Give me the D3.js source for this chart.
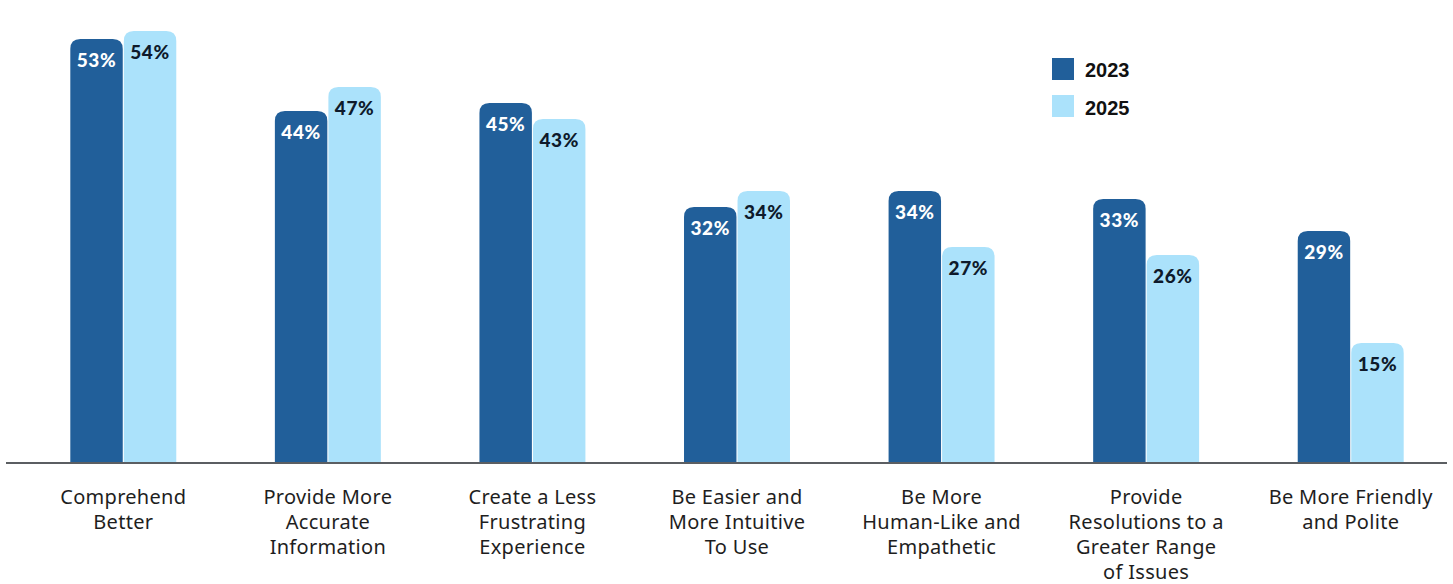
<!DOCTYPE html>
<html>
<head>
<meta charset="utf-8">
<script src="https://cdn.jsdelivr.net/npm/d3@7/dist/d3.min.js"></script>
<style>
  html, body { margin: 0; padding: 0; background: #ffffff; }
  svg { display: block; }
</style>
</head>
<body>
<svg id="chart" width="1453" height="584"></svg>
<script>
// Categories (each label split into its display lines)
const categories = [
  ["Comprehend", "Better"],
  ["Provide More", "Accurate", "Information"],
  ["Create a Less", "Frustrating", "Experience"],
  ["Be Easier and", "More Intuitive", "To Use"],
  ["Be More", "Human-Like and", "Empathetic"],
  ["Provide", "Resolutions to a", "Greater Range", "of Issues"],
  ["Be More Friendly", "and Polite"]
];
const seriesNames = ["2023", "2025"];
const values2023 = [53, 44, 45, 32, 34, 33, 29];
const values2025 = [54, 47, 43, 34, 27, 26, 15];
const seriesValues = [values2023, values2025];
const seriesColors = ["#215f9a", "#abe2fb"];
const labelColors = ["#ffffff", "#0e1a2b"];

const width = 1453, height = 584;
const baseline = 463;

const svg = d3.select("#chart");

const x0 = d3.scaleBand()
  .domain(d3.range(categories.length))
  .range([21, 1453])
  .paddingInner(0.482)
  .paddingOuter(0.241);

const x1 = d3.scaleBand()
  .domain(seriesNames)
  .range([0, x0.bandwidth()])
  .paddingInner(0.02);

const y = d3.scaleLinear()
  .domain([0, 57])
  .range([baseline, 7]);

// Bar with rounded top corners
function topRounded(x, yTop, w, h, r) {
  r = Math.min(r, w / 2, h);
  return `M${x},${yTop + h}` +
    `V${yTop + r}` +
    `Q${x},${yTop} ${x + r},${yTop}` +
    `H${x + w - r}` +
    `Q${x + w},${yTop} ${x + w},${yTop + r}` +
    `V${yTop + h}Z`;
}

const rows = [];
categories.forEach((c, i) => {
  seriesNames.forEach((s, j) => {
    rows.push({ i, j, series: s, value: seriesValues[j][i] });
  });
});

const bars = svg.append("g");
bars.selectAll("path")
  .data(rows)
  .join("path")
  .attr("d", d => {
    const bx = x0(d.i) + x1(d.series);
    const top = y(d.value);
    return topRounded(bx, top, x1.bandwidth(), baseline - top, 10);
  })
  .attr("fill", d => seriesColors[d.j]);

// Value labels inside bars
svg.append("g").selectAll("text")
  .data(rows)
  .join("text")
  .attr("x", d => x0(d.i) + x1(d.series) + x1.bandwidth() / 2)
  .attr("y", d => y(d.value) + 28)
  .attr("text-anchor", "middle")
  .attr("font-family", "Lato, 'Open Sans', sans-serif")
  .attr("font-weight", 900)
  .attr("font-size", 19)
  .attr("letter-spacing", 0.6)
  .attr("fill", d => labelColors[d.j])
  .text(d => d.value + "%");

// Baseline axis
const xAxis = d3.axisBottom(x0).tickSize(0).tickFormat("");
const axisG = svg.append("g")
  .attr("transform", `translate(0,${baseline})`)
  .call(xAxis);
axisG.select(".domain")
  .attr("d", `M6,0H1447`)
  .attr("stroke", "#5b5e62")
  .attr("stroke-width", 2);

// Category labels
const catG = svg.append("g");
categories.forEach((lines, i) => {
  const t = catG.append("text")
    .attr("x", x0(i) + x0.bandwidth() / 2)
    .attr("y", 503.5)
    .attr("text-anchor", "middle")
    .attr("font-family", "'Noto Sans', 'Open Sans', sans-serif")
    .attr("font-size", 20)
    .attr("letter-spacing", 0.3)
    .attr("fill", "#1e1e1e");
  lines.forEach((ln, k) => {
    t.append("tspan")
      .attr("x", x0(i) + x0.bandwidth() / 2)
      .attr("y", 503.5 + k * 25)
      .text(ln);
  });
});

// Legend
const legend = svg.append("g");
seriesNames.forEach((s, j) => {
  legend.append("rect")
    .attr("x", 1052)
    .attr("y", 58 + j * 37)
    .attr("width", 22)
    .attr("height", 22)
    .attr("fill", seriesColors[j]);
  legend.append("text")
    .attr("x", 1085)
    .attr("y", 77.3 + j * 37.7)
    .attr("font-family", "'Liberation Sans', Arial, sans-serif")
    .attr("font-weight", "bold")
    .attr("font-size", 20)
    .attr("fill", "#111111")
    .text(s);
});
</script>
</body>
</html>
